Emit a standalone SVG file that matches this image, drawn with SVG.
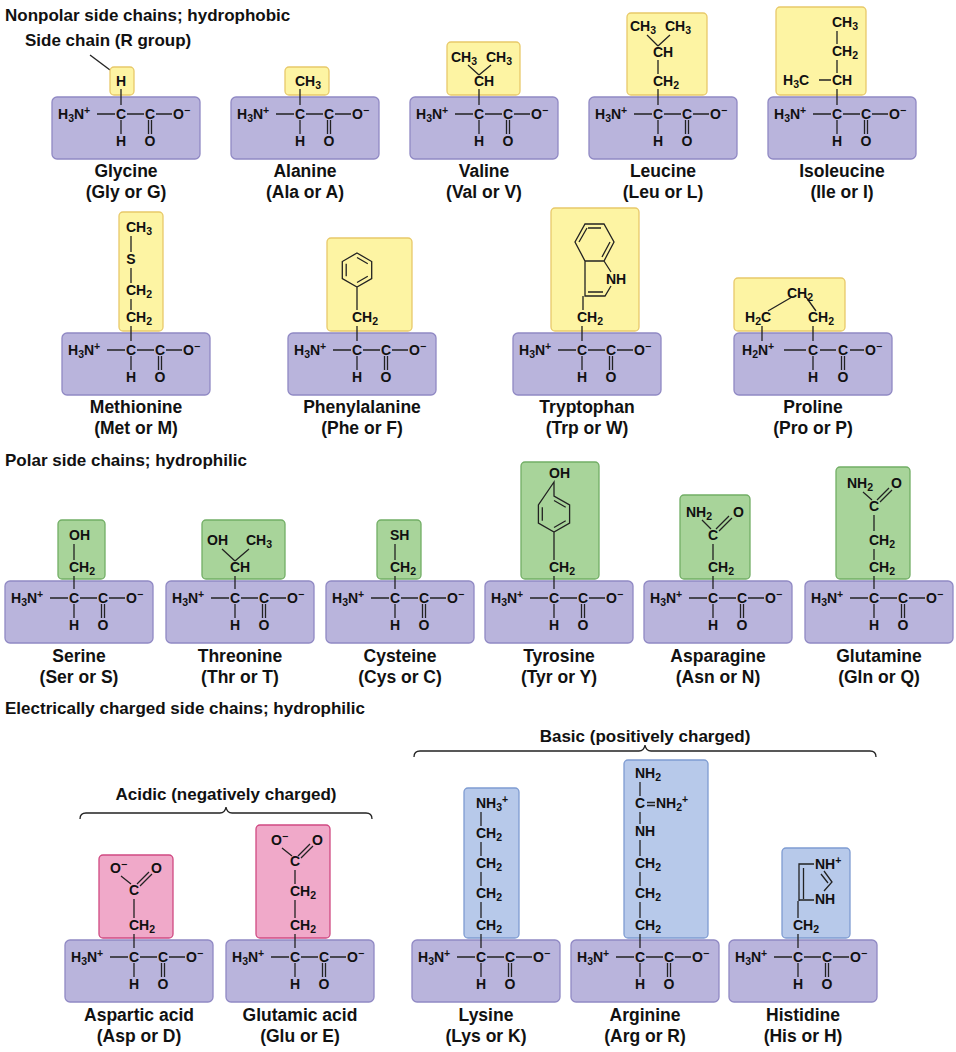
<svg xmlns="http://www.w3.org/2000/svg" width="956" height="1052" viewBox="0 0 956 1052">
<style>
text{font-family:"Liberation Sans",Arial,sans-serif;font-weight:bold;fill:#111}
.c{font-size:14px}
.m{text-anchor:middle}
.n{font-size:17.5px;text-anchor:middle}
.h{font-size:17px}
.sb{font-size:10.5px;baseline-shift:-3px}
.sp{font-size:10.5px;baseline-shift:5px}
.bb{fill:#b9b4dc;stroke:#9089c4;stroke-width:1.3}
.y{fill:#fdf4a3;stroke:#e8c96a;stroke-width:1.3}
.g{fill:#a8d49a;stroke:#72ae65;stroke-width:1.3}
.p{fill:#f0a9c9;stroke:#d04a82;stroke-width:1.3}
.b{fill:#b7c9ea;stroke:#7f9cd2;stroke-width:1.3}
.ln{stroke:#222;stroke-width:1.3;fill:none}
</style>
<defs>
<path id="bl" class="ln" d="M45,17H63M75,17H92M104,17H120M69,23V37M96.5,23V37M99.5,23V37"/>
</defs>
<text class="h" x="5" y="21">Nonpolar side chains; hydrophobic</text>
<text class="h" x="25" y="46">Side chain (R group)</text>
<text class="h" x="5" y="466">Polar side chains; hydrophilic</text>
<text class="h" x="5" y="714">Electrically charged side chains; hydrophilic</text>
<text class="h m" x="645" y="742">Basic (positively charged)</text>
<text class="h m" x="226" y="800">Acidic (negatively charged)</text>
<g id="connectors">
<path class="ln" d="M90,55L110,70"/>
<path class="ln" d="M414,757q0,-6 6,-6H639q5,0 6,-6q1,6 6,6H870q6,0 6,6"/>
<path class="ln" d="M80,819q0,-6 6,-6H220q5,0 6,-6q1,6 6,6H366q6,0 6,6"/>
</g>

<g id="glycine"><rect class="y" x="110" y="67" width="24" height="28" rx="4"/><rect class="bb" x="52" y="97" width="148" height="62" rx="5"/><use href="#bl" x="52" y="97"/><path class="ln" d="M121,89V105"/>
<text class="c m" x="121" y="86">H</text>
<text class="c" x="58" y="119">H<tspan class="sb">3</tspan>N<tspan class="sp">+</tspan></text><text class="c m" x="121" y="119">C</text><text class="c m" x="150" y="119">C</text><text class="c" x="173" y="119">O<tspan class="sp">−</tspan></text><text class="c m" x="121" y="146">H</text><text class="c m" x="150" y="146">O</text>
<text class="n" x="126" y="177">Glycine</text><text class="n" x="126" y="198">(Gly or G)</text></g>

<g id="alanine"><rect class="y" x="285" y="67" width="44" height="28" rx="4"/><rect class="bb" x="231" y="97" width="148" height="62" rx="5"/><use href="#bl" x="231" y="97"/><path class="ln" d="M300,89V105"/>
<text class="c" x="295" y="86">CH<tspan class="sb">3</tspan></text>
<text class="c" x="237" y="119">H<tspan class="sb">3</tspan>N<tspan class="sp">+</tspan></text><text class="c m" x="300" y="119">C</text><text class="c m" x="329" y="119">C</text><text class="c" x="352" y="119">O<tspan class="sp">−</tspan></text><text class="c m" x="300" y="146">H</text><text class="c m" x="329" y="146">O</text>
<text class="n" x="305" y="177">Alanine</text><text class="n" x="305" y="198">(Ala or A)</text></g>

<g id="valine"><rect class="y" x="447" y="42" width="73" height="53" rx="4"/><rect class="bb" x="410" y="97" width="148" height="62" rx="5"/><use href="#bl" x="410" y="97"/><path class="ln" d="M479,89V105M479,75L468,65M479,75L491,65"/>
<text class="c" x="451" y="62">CH<tspan class="sb">3</tspan></text><text class="c" x="486" y="62">CH<tspan class="sb">3</tspan></text><text class="c" x="474" y="86">CH</text>
<text class="c" x="416" y="119">H<tspan class="sb">3</tspan>N<tspan class="sp">+</tspan></text><text class="c m" x="479" y="119">C</text><text class="c m" x="508" y="119">C</text><text class="c" x="531" y="119">O<tspan class="sp">−</tspan></text><text class="c m" x="479" y="146">H</text><text class="c m" x="508" y="146">O</text>
<text class="n" x="484" y="177">Valine</text><text class="n" x="484" y="198">(Val or V)</text></g>

<g id="leucine"><rect class="y" x="627" y="13" width="80" height="82" rx="4"/><rect class="bb" x="589" y="97" width="148" height="62" rx="5"/><use href="#bl" x="589" y="97"/><path class="ln" d="M658,89V105M658,60V74M658,46L647,35M658,46L670,35"/>
<text class="c" x="630" y="31">CH<tspan class="sb">3</tspan></text><text class="c" x="665" y="31">CH<tspan class="sb">3</tspan></text><text class="c" x="653" y="57">CH</text><text class="c" x="653" y="86">CH<tspan class="sb">2</tspan></text>
<text class="c" x="595" y="119">H<tspan class="sb">3</tspan>N<tspan class="sp">+</tspan></text><text class="c m" x="658" y="119">C</text><text class="c m" x="687" y="119">C</text><text class="c" x="710" y="119">O<tspan class="sp">−</tspan></text><text class="c m" x="658" y="146">H</text><text class="c m" x="687" y="146">O</text>
<text class="n" x="663" y="177">Leucine</text><text class="n" x="663" y="198">(Leu or L)</text></g>

<g id="isoleucine"><rect class="y" x="776" y="7" width="90" height="88" rx="4"/><rect class="bb" x="768" y="97" width="148" height="62" rx="5"/><use href="#bl" x="768" y="97"/><path class="ln" d="M837,31V44M837,60V73M837,89V105M819,80H831"/>
<text class="c" x="783" y="85">H<tspan class="sb">3</tspan>C</text><text class="c" x="832" y="27">CH<tspan class="sb">3</tspan></text><text class="c" x="832" y="56">CH<tspan class="sb">2</tspan></text><text class="c" x="832" y="85">CH</text>
<text class="c" x="774" y="119">H<tspan class="sb">3</tspan>N<tspan class="sp">+</tspan></text><text class="c m" x="837" y="119">C</text><text class="c m" x="866" y="119">C</text><text class="c" x="889" y="119">O<tspan class="sp">−</tspan></text><text class="c m" x="837" y="146">H</text><text class="c m" x="866" y="146">O</text>
<text class="n" x="842" y="177">Isoleucine</text><text class="n" x="842" y="198">(Ile or I)</text></g>

<g id="methionine"><rect class="y" x="119" y="212" width="44" height="119" rx="4"/><rect class="bb" x="62" y="333" width="148" height="62" rx="5"/><use href="#bl" x="62" y="333"/><path class="ln" d="M131,236V252M131,268V283M131,299V310M131,326V341"/>
<text class="c" x="126" y="232">CH<tspan class="sb">3</tspan></text><text class="c m" x="131" y="264">S</text><text class="c" x="126" y="295">CH<tspan class="sb">2</tspan></text><text class="c" x="126" y="322">CH<tspan class="sb">2</tspan></text>
<text class="c" x="68" y="355">H<tspan class="sb">3</tspan>N<tspan class="sp">+</tspan></text><text class="c m" x="131" y="355">C</text><text class="c m" x="160" y="355">C</text><text class="c" x="183" y="355">O<tspan class="sp">−</tspan></text><text class="c m" x="131" y="382">H</text><text class="c m" x="160" y="382">O</text>
<text class="n" x="136" y="413">Methionine</text><text class="n" x="136" y="434">(Met or M)</text></g>

<g id="phenylalanine"><rect class="y" x="327" y="238" width="85" height="93" rx="4"/><rect class="bb" x="288" y="333" width="148" height="62" rx="5"/><use href="#bl" x="288" y="333"/>
<path class="ln" d="M357,253L371.7,261.5V278.5L357,287L342.3,278.5V261.5ZM357,257.5L367.8,263.7M367.8,276.3L357,282.5M346.2,276.3V263.7M357,287V310M357,326V341"/>
<text class="c" x="352" y="322">CH<tspan class="sb">2</tspan></text>
<text class="c" x="294" y="355">H<tspan class="sb">3</tspan>N<tspan class="sp">+</tspan></text><text class="c m" x="357" y="355">C</text><text class="c m" x="386" y="355">C</text><text class="c" x="409" y="355">O<tspan class="sp">−</tspan></text><text class="c m" x="357" y="382">H</text><text class="c m" x="386" y="382">O</text>
<text class="n" x="362" y="413">Phenylalanine</text><text class="n" x="362" y="434">(Phe or F)</text></g>

<g id="tryptophan"><rect class="y" x="551" y="208" width="88" height="123" rx="4"/><rect class="bb" x="513" y="333" width="148" height="62" rx="5"/><use href="#bl" x="513" y="333"/>
<path class="ln" d="M585,224H604L614,242L604,261H585L575,242ZM588,228H601M610,242L602,257M579,242L587,228M585,261V296H605L611,286M604,261L611,272M588,292H603M583,296V310M582,326V341"/>
<text class="c" x="606" y="284">NH</text>
<text class="c" x="577" y="322">CH<tspan class="sb">2</tspan></text>
<text class="c" x="519" y="355">H<tspan class="sb">3</tspan>N<tspan class="sp">+</tspan></text><text class="c m" x="582" y="355">C</text><text class="c m" x="611" y="355">C</text><text class="c" x="634" y="355">O<tspan class="sp">−</tspan></text><text class="c m" x="582" y="382">H</text><text class="c m" x="611" y="382">O</text>
<text class="n" x="587" y="413">Tryptophan</text><text class="n" x="587" y="434">(Trp or W)</text></g>

<g id="proline"><rect class="y" x="734" y="278" width="111" height="53" rx="4"/><rect class="bb" x="734" y="333" width="158" height="62" rx="5"/>
<path class="ln" d="M768,311L792,297M806,297L816,311M762,326V341M813,326V341M784,350H806M820,350H836M850,350H864M813,356V370M841.5,356V370M844.5,356V370"/>
<text class="c m" x="800" y="298">CH<tspan class="sb">2</tspan></text><text class="c" x="745" y="322">H<tspan class="sb">2</tspan>C</text><text class="c" x="808" y="322">CH<tspan class="sb">2</tspan></text>
<text class="c" x="742" y="355">H<tspan class="sb">2</tspan>N<tspan class="sp">+</tspan></text><text class="c m" x="813" y="355">C</text><text class="c m" x="843" y="355">C</text><text class="c" x="865" y="355">O<tspan class="sp">−</tspan></text><text class="c m" x="813" y="382">H</text><text class="c m" x="843" y="382">O</text>
<text class="n" x="813" y="413">Proline</text><text class="n" x="813" y="434">(Pro or P)</text></g>

<g id="serine"><rect class="g" x="58" y="520" width="47" height="59" rx="4"/><rect class="bb" x="5" y="581" width="148" height="62" rx="5"/><use href="#bl" x="5" y="581"/><path class="ln" d="M74,544V560M74,576V589"/>
<text class="c" x="69" y="540">OH</text><text class="c" x="69" y="572">CH<tspan class="sb">2</tspan></text>
<text class="c" x="11" y="603">H<tspan class="sb">3</tspan>N<tspan class="sp">+</tspan></text><text class="c m" x="74" y="603">C</text><text class="c m" x="103" y="603">C</text><text class="c" x="126" y="603">O<tspan class="sp">−</tspan></text><text class="c m" x="74" y="630">H</text><text class="c m" x="103" y="630">O</text>
<text class="n" x="79" y="662">Serine</text><text class="n" x="79" y="683">(Ser or S)</text></g>

<g id="threonine"><rect class="g" x="202" y="520" width="83" height="59" rx="4"/><rect class="bb" x="166" y="581" width="148" height="62" rx="5"/><use href="#bl" x="166" y="581"/><path class="ln" d="M235,576V589M235,561L222,549M235,561L249,549"/>
<text class="c" x="207" y="545">OH</text><text class="c" x="246" y="545">CH<tspan class="sb">3</tspan></text><text class="c" x="230" y="572">CH</text>
<text class="c" x="172" y="603">H<tspan class="sb">3</tspan>N<tspan class="sp">+</tspan></text><text class="c m" x="235" y="603">C</text><text class="c m" x="264" y="603">C</text><text class="c" x="287" y="603">O<tspan class="sp">−</tspan></text><text class="c m" x="235" y="630">H</text><text class="c m" x="264" y="630">O</text>
<text class="n" x="240" y="662">Threonine</text><text class="n" x="240" y="683">(Thr or T)</text></g>

<g id="cysteine"><rect class="g" x="377" y="520" width="44" height="59" rx="4"/><rect class="bb" x="326" y="581" width="148" height="62" rx="5"/><use href="#bl" x="326" y="581"/><path class="ln" d="M395,544V560M395,576V589"/>
<text class="c" x="390" y="540">SH</text><text class="c" x="390" y="572">CH<tspan class="sb">2</tspan></text>
<text class="c" x="332" y="603">H<tspan class="sb">3</tspan>N<tspan class="sp">+</tspan></text><text class="c m" x="395" y="603">C</text><text class="c m" x="424" y="603">C</text><text class="c" x="447" y="603">O<tspan class="sp">−</tspan></text><text class="c m" x="395" y="630">H</text><text class="c m" x="424" y="630">O</text>
<text class="n" x="400" y="662">Cysteine</text><text class="n" x="400" y="683">(Cys or C)</text></g>

<g id="tyrosine"><rect class="g" x="521" y="462" width="78" height="117" rx="4"/><rect class="bb" x="485" y="581" width="148" height="62" rx="5"/><use href="#bl" x="485" y="581"/>
<path class="ln" d="M554,482V496L569.6,505V523L554,532L538.4,523V505ZM554,500.5L565.7,507.2M565.7,520.8L554,527.5M542.3,520.8V507.2M554,532V560M554,576V589"/>
<text class="c" x="549" y="478">OH</text><text class="c" x="549" y="572">CH<tspan class="sb">2</tspan></text>
<text class="c" x="491" y="603">H<tspan class="sb">3</tspan>N<tspan class="sp">+</tspan></text><text class="c m" x="554" y="603">C</text><text class="c m" x="583" y="603">C</text><text class="c" x="606" y="603">O<tspan class="sp">−</tspan></text><text class="c m" x="554" y="630">H</text><text class="c m" x="583" y="630">O</text>
<text class="n" x="559" y="662">Tyrosine</text><text class="n" x="559" y="683">(Tyr or Y)</text></g>

<g id="asparagine"><rect class="g" x="680" y="495" width="70" height="84" rx="4"/><rect class="bb" x="644" y="581" width="148" height="62" rx="5"/><use href="#bl" x="644" y="581"/>
<path class="ln" d="M711,529L702,520M716,529L729,516M719,531L732,518M713,544V560M713,576V589"/>
<text class="c" x="686" y="517">NH<tspan class="sb">2</tspan></text><text class="c" x="733" y="517">O</text><text class="c" x="708" y="540">C</text><text class="c" x="708" y="572">CH<tspan class="sb">2</tspan></text>
<text class="c" x="650" y="603">H<tspan class="sb">3</tspan>N<tspan class="sp">+</tspan></text><text class="c m" x="713" y="603">C</text><text class="c m" x="742" y="603">C</text><text class="c" x="765" y="603">O<tspan class="sp">−</tspan></text><text class="c m" x="713" y="630">H</text><text class="c m" x="742" y="630">O</text>
<text class="n" x="718" y="662">Asparagine</text><text class="n" x="718" y="683">(Asn or N)</text></g>

<g id="glutamine"><rect class="g" x="836" y="467" width="74" height="112" rx="4"/><rect class="bb" x="805" y="581" width="148" height="62" rx="5"/><use href="#bl" x="805" y="581"/>
<path class="ln" d="M872,500L863,492M877,500L889,488M880,502L892,490M874,515V531M874,549V560M874,576V589"/>
<text class="c" x="847" y="488">NH<tspan class="sb">2</tspan></text><text class="c" x="891" y="488">O</text><text class="c" x="869" y="511">C</text><text class="c" x="869" y="545">CH<tspan class="sb">2</tspan></text><text class="c" x="869" y="572">CH<tspan class="sb">2</tspan></text>
<text class="c" x="811" y="603">H<tspan class="sb">3</tspan>N<tspan class="sp">+</tspan></text><text class="c m" x="874" y="603">C</text><text class="c m" x="903" y="603">C</text><text class="c" x="926" y="603">O<tspan class="sp">−</tspan></text><text class="c m" x="874" y="630">H</text><text class="c m" x="903" y="630">O</text>
<text class="n" x="879" y="662">Glutamine</text><text class="n" x="879" y="683">(Gln or Q)</text></g>

<g id="aspartic"><rect class="p" x="99" y="855" width="74" height="83" rx="4"/><rect class="bb" x="65" y="940" width="148" height="62" rx="5"/><use href="#bl" x="65" y="940"/>
<path class="ln" d="M131,884L121,876M137,884L149,872M140,886L152,874M134,899V918M134,934V948"/>
<text class="c" x="110" y="873">O<tspan class="sp">−</tspan></text><text class="c" x="151" y="873">O</text><text class="c" x="129" y="895">C</text><text class="c" x="129" y="930">CH<tspan class="sb">2</tspan></text>
<text class="c" x="71" y="962">H<tspan class="sb">3</tspan>N<tspan class="sp">+</tspan></text><text class="c m" x="134" y="962">C</text><text class="c m" x="163" y="962">C</text><text class="c" x="186" y="962">O<tspan class="sp">−</tspan></text><text class="c m" x="134" y="989">H</text><text class="c m" x="163" y="989">O</text>
<text class="n" x="139" y="1021">Aspartic acid</text><text class="n" x="139" y="1042">(Asp or D)</text></g>

<g id="glutamic"><rect class="p" x="256" y="825" width="74" height="113" rx="4"/><rect class="bb" x="226" y="940" width="148" height="62" rx="5"/><use href="#bl" x="226" y="940"/>
<path class="ln" d="M292,856L282,848M298,856L310,844M301,858L313,846M295,870V884M295,900V918M295,934V948"/>
<text class="c" x="271" y="845">O<tspan class="sp">−</tspan></text><text class="c" x="312" y="845">O</text><text class="c" x="290" y="866">C</text><text class="c" x="290" y="896">CH<tspan class="sb">2</tspan></text><text class="c" x="290" y="930">CH<tspan class="sb">2</tspan></text>
<text class="c" x="232" y="962">H<tspan class="sb">3</tspan>N<tspan class="sp">+</tspan></text><text class="c m" x="295" y="962">C</text><text class="c m" x="324" y="962">C</text><text class="c" x="347" y="962">O<tspan class="sp">−</tspan></text><text class="c m" x="295" y="989">H</text><text class="c m" x="324" y="989">O</text>
<text class="n" x="300" y="1021">Glutamic acid</text><text class="n" x="300" y="1042">(Glu or E)</text></g>

<g id="lysine"><rect class="b" x="464" y="788" width="55" height="150" rx="4"/><rect class="bb" x="412" y="940" width="148" height="62" rx="5"/><use href="#bl" x="412" y="940"/>
<path class="ln" d="M481,812V826M481,842V856M481,872V886M481,902V918M481,934V948"/>
<text class="c" x="476" y="808">NH<tspan class="sb">3</tspan><tspan class="sp">+</tspan></text><text class="c" x="476" y="838">CH<tspan class="sb">2</tspan></text><text class="c" x="476" y="868">CH<tspan class="sb">2</tspan></text><text class="c" x="476" y="898">CH<tspan class="sb">2</tspan></text><text class="c" x="476" y="930">CH<tspan class="sb">2</tspan></text>
<text class="c" x="418" y="962">H<tspan class="sb">3</tspan>N<tspan class="sp">+</tspan></text><text class="c m" x="481" y="962">C</text><text class="c m" x="510" y="962">C</text><text class="c" x="533" y="962">O<tspan class="sp">−</tspan></text><text class="c m" x="481" y="989">H</text><text class="c m" x="510" y="989">O</text>
<text class="n" x="486" y="1021">Lysine</text><text class="n" x="486" y="1042">(Lys or K)</text></g>

<g id="arginine"><rect class="b" x="624" y="760" width="84" height="178" rx="4"/><rect class="bb" x="571" y="940" width="148" height="62" rx="5"/><use href="#bl" x="571" y="940"/>
<path class="ln" d="M640,782V796M640,812V824M640,840V856M640,872V886M640,902V918M640,934V948M647,802.5H655M647,805.5H655"/>
<text class="c" x="635" y="778">NH<tspan class="sb">2</tspan></text><text class="c" x="635" y="808">C</text><text class="c" x="656" y="808">NH<tspan class="sb">2</tspan><tspan class="sp">+</tspan></text><text class="c" x="635" y="836">NH</text><text class="c" x="635" y="868">CH<tspan class="sb">2</tspan></text><text class="c" x="635" y="898">CH<tspan class="sb">2</tspan></text><text class="c" x="635" y="930">CH<tspan class="sb">2</tspan></text>
<text class="c" x="577" y="962">H<tspan class="sb">3</tspan>N<tspan class="sp">+</tspan></text><text class="c m" x="640" y="962">C</text><text class="c m" x="669" y="962">C</text><text class="c" x="692" y="962">O<tspan class="sp">−</tspan></text><text class="c m" x="640" y="989">H</text><text class="c m" x="669" y="989">O</text>
<text class="n" x="645" y="1021">Arginine</text><text class="n" x="645" y="1042">(Arg or R)</text></g>

<g id="histidine"><rect class="b" x="782" y="848" width="68" height="90" rx="4"/><rect class="bb" x="729" y="940" width="148" height="62" rx="5"/><use href="#bl" x="729" y="940"/>
<path class="ln" d="M799,901V864H814M803.5,899V868M799,900H814M824,871L832,882L824,891M821,874L828,883M798,901V918M798,934V948"/>
<text class="c" x="815" y="869">NH<tspan class="sp">+</tspan></text><text class="c" x="815" y="904">NH</text><text class="c" x="793" y="930">CH<tspan class="sb">2</tspan></text>
<text class="c" x="735" y="962">H<tspan class="sb">3</tspan>N<tspan class="sp">+</tspan></text><text class="c m" x="798" y="962">C</text><text class="c m" x="827" y="962">C</text><text class="c" x="850" y="962">O<tspan class="sp">−</tspan></text><text class="c m" x="798" y="989">H</text><text class="c m" x="827" y="989">O</text>
<text class="n" x="803" y="1021">Histidine</text><text class="n" x="803" y="1042">(His or H)</text></g>
</svg>
